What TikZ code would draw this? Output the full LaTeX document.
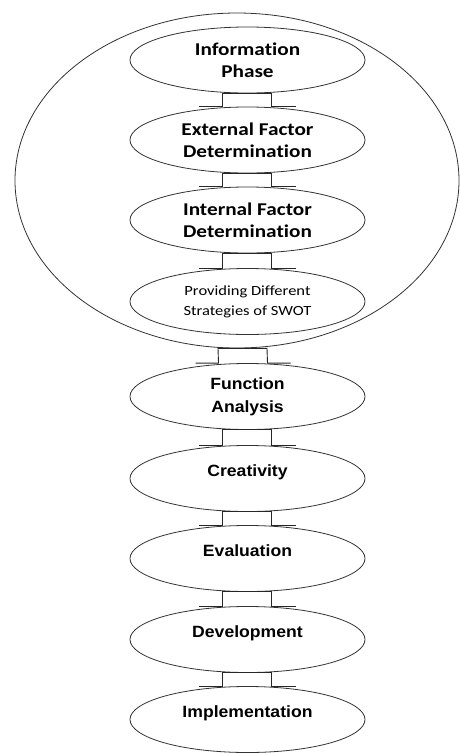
\documentclass[tikz,border=0pt]{standalone}
\usepackage{fontspec}
\usetikzlibrary{shapes.geometric}
\newfontfamily\calfont[FakeStretch=1.18, Ligatures=NoCommon]{Carlito}
\newfontfamily\arialfont[FakeStretch=1.08]{Liberation Sans}
\begin{document}
\begin{tikzpicture}[
        x=1pt, y=-1pt,
        % ellipse of one step
        phase/.style={
            ellipse,
            draw=black!80,
            line width=0.8pt,
            inner sep=0pt,
            minimum width=235pt,
            minimum height=66pt,
            align=center
        },
        swotphase/.style={phase, font=\calfont\bfseries\fontsize{18}{22}\selectfont},
        vephase/.style={phase, font=\arialfont\bfseries\fontsize{16.3}{23}\selectfont},
        oneline/.style={text height=12pt, text depth=15.5pt},
        % the bracket between two steps
        joint/.style={draw=black!85, line width=0.9pt}
    ]
        \useasboundingbox (0,0) rectangle (460,753);

        % --- SWOT part (inside the big ellipse) ---
        \node[phase, minimum width=444pt, minimum height=335pt] (outer) at (237,180.5) {};
        \node[swotphase] (info) at (247.5,60) {Information\\Phase};
        \node[swotphase] (ext) at (247.5,140) {External Factor\\Determination};
        \node[swotphase] (int) at (247.5,220) {Internal Factor\\Determination};
        \node[phase, font=\calfont\fontsize{14}{20}\selectfont] (swot) at (247.5,301.5) {Providing Different\\Strategies of SWOT};

        % --- value engineering part ---
        \node[vephase] (func) at (247.5,396.5) {Function\\Analysis};
        \node[vephase, oneline] (crea) at (247.5,478.5) {Creativity};
        \node[vephase, oneline] (eval) at (247.5,558.5) {Evaluation};
        \node[vephase, oneline] (dev) at (247.5,639.5) {Development};
        \node[vephase, oneline] (impl) at (247.5,719.5) {Implementation};

        % --- brackets ---
        \foreach \a/\b in {info/ext, ext/int, int/swot, func/crea, crea/eval, eval/dev, dev/impl}
            \draw[joint] ([xshift=-49pt]\b.north) -- ([xshift=-25pt]\b.north)
                -- ([xshift=-25pt]\a.south) -- ([xshift=24pt]\a.south)
                -- ([xshift=24pt]\b.north) -- ([xshift=48pt]\b.north);

        % big ellipse to Function Analysis
        \draw[joint] ([xshift=-52pt]func.north) -- ([xshift=-29pt]func.north)
            -- ([xshift=-19pt]outer.south) -- ([xshift=30pt]outer.south)
            -- ([xshift=20pt]func.north) -- ([xshift=43pt]func.north);
\end{tikzpicture}
\end{document}
